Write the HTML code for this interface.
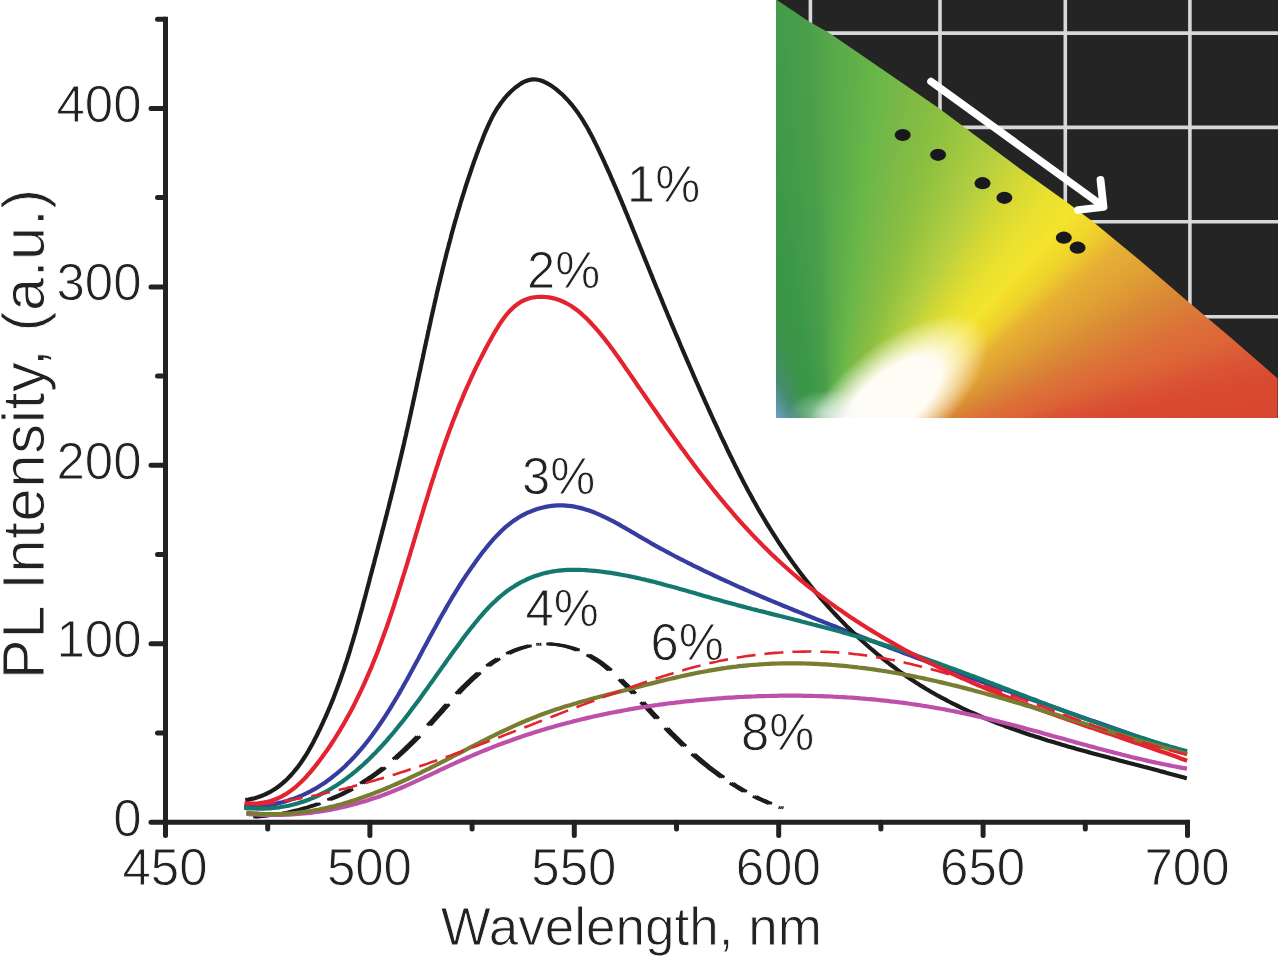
<!DOCTYPE html>
<html><head><meta charset="utf-8"><style>
html,body{margin:0;padding:0;background:#fff;width:1280px;height:958px;overflow:hidden}
svg{position:absolute;left:0;top:0}
text{font-family:"Liberation Sans",sans-serif;fill:#222;stroke:#fff;stroke-width:0.9px}
</style></head><body>
<div style="position:absolute;left:775.5px;top:0;width:502.1px;height:418.3px;background:#242424"></div>
<svg width="1280" height="958" style="position:absolute;left:775.5px;top:0"><line x1="34.4" y1="0" x2="34.4" y2="418.3" stroke="#d8d8d8" stroke-width="3.6"/><line x1="164.0" y1="0" x2="164.0" y2="418.3" stroke="#d8d8d8" stroke-width="3.6"/><line x1="289.3" y1="0" x2="289.3" y2="418.3" stroke="#d8d8d8" stroke-width="3.6"/><line x1="413.9" y1="0" x2="413.9" y2="418.3" stroke="#d8d8d8" stroke-width="3.6"/><line x1="0" y1="33.1" x2="502.1" y2="33.1" stroke="#d8d8d8" stroke-width="3.6"/><line x1="0" y1="127.4" x2="502.1" y2="127.4" stroke="#d8d8d8" stroke-width="3.6"/><line x1="0" y1="221.8" x2="502.1" y2="221.8" stroke="#d8d8d8" stroke-width="3.6"/><line x1="0" y1="316.7" x2="502.1" y2="316.7" stroke="#d8d8d8" stroke-width="3.6"/></svg>
<div style="position:absolute;left:775.5px;top:0;width:502.1px;height:418.3px;clip-path:polygon(0.0px 0.0px,1.4px 0.0px,33.5px 21.5px,54.2px 33.3px,104.5px 67.8px,163.8px 108.6px,199.5px 135.2px,244.5px 168.8px,289.0px 200.5px,317.2px 221.4px,364.5px 260.5px,412.4px 301.5px,454.5px 337.0px,502.1px 378.5px,502.1px 418.3px,0.0px 418.3px);overflow:hidden">
<div style="position:absolute;left:0;top:0;width:100%;height:100%;background:conic-gradient(from -60deg at 54.5px 480.0px, #6a9cc4 20deg, #468c6e 32deg, #3c9448 42deg, #3a9848 49deg, #4a9e4a 57deg, #56a84a 60deg, #6ab848 67deg, #78b848 70deg, #8cc040 77deg, #b8d040 87deg, #d4d834 92deg, #e8e030 97deg, #f4e42c 102deg, #f0d02c 107deg, #e6b034 111deg, #e0a035 116deg, #d98636 122deg, #dc7038 127deg, #dd6437 131deg, #da5434 134deg, #d94a32 137deg, #d8432f 145deg, #d8402f 200deg, #6a9cc4 359deg)"></div>
<div style="position:absolute;left:-13.5px;top:340px;width:260px;height:120px;transform:rotate(-40deg);background:radial-gradient(closest-side,rgba(255,252,246,1) 0%,rgba(255,252,246,1) 45%,rgba(255,252,246,0.5) 68%,rgba(255,252,246,0) 90%)"></div>
<div style="position:absolute;left:12.5px;top:390px;width:80px;height:44px;background:radial-gradient(closest-side,rgba(235,245,250,0.6) 0%,rgba(235,245,250,0) 100%)"></div>
</div>
<svg width="1280" height="958" viewBox="0 0 1280 958">
<path id="dd" d="M254.7,817.0L257.7,816.8 260.7,816.5 263.8,816.2 266.8,815.8 269.8,815.4 272.8,815.0 275.9,814.5 278.9,814.0 281.9,813.5 284.9,812.9 287.9,812.3 290.9,811.6 293.8,810.9 296.8,810.2 299.8,809.5 302.7,808.7 305.6,807.8 308.5,807.0 311.4,806.1 314.3,805.2 317.2,804.2 320.1,803.2 322.9,802.1 325.7,801.1 328.5,800.0 331.3,798.8 334.1,797.6 336.9,796.4 339.6,795.2 342.3,793.9 345.0,792.6 347.6,791.2 350.3,789.8 352.9,788.4 355.5,786.9 358.0,785.4 360.6,783.9 363.1,782.4 365.6,780.8 368.1,779.2 370.5,777.5 373.0,775.8 375.4,774.1 377.8,772.4 380.1,770.6 382.5,768.8 384.8,767.0 387.1,765.1 389.4,763.3 391.7,761.4 394.0,759.4 396.3,757.5 398.5,755.5 400.7,753.5 402.9,751.5 405.1,749.4 407.3,747.3 409.5,745.2 411.7,743.1 413.8,741.0 416.0,738.8 418.1,736.7 420.2,734.5 422.3,732.2 424.4,730.0 426.5,727.8 428.6,725.5 430.7,723.2 432.8,720.9 434.9,718.6 436.9,716.3 439.0,714.0 441.1,711.7 443.1,709.4 445.2,707.0 447.3,704.7 449.4,702.4 451.5,700.1 453.6,697.8 455.7,695.5 457.8,693.3 460.0,691.0 462.1,688.8 464.3,686.6 466.5,684.4 468.7,682.3 470.9,680.2 473.1,678.1 475.4,676.1 477.7,674.0 480.0,672.1 482.3,670.2 484.7,668.3 487.1,666.4 489.5,664.7 491.9,662.9 494.4,661.3 497.0,659.6 499.5,658.1 502.1,656.6 504.7,655.1 507.4,653.8 510.1,652.5 512.8,651.3 515.5,650.1 518.3,649.1 521.1,648.1 523.9,647.3 526.7,646.5 529.5,645.8 532.4,645.2 535.3,644.7 538.1,644.4 541.0,644.1 543.9,643.9 546.8,643.9 549.7,644.0 552.6,644.1 555.4,644.4 558.3,644.8 561.2,645.3 564.0,645.8 566.8,646.5 569.7,647.3 572.5,648.1 575.2,649.1 578.0,650.1 580.7,651.3 583.4,652.5 586.0,653.8 588.7,655.2 591.2,656.6 593.8,658.2 596.3,659.8 598.8,661.4 601.3,663.2 603.7,665.0 606.1,666.9 608.4,668.8 610.8,670.7 613.1,672.8 615.4,674.8 617.7,676.9 619.9,679.0 622.1,681.2 624.3,683.4 626.5,685.6 628.7,687.8 630.8,690.0 633.0,692.3 635.1,694.5 637.2,696.8 639.3,699.0 641.4,701.3 643.4,703.6 645.5,705.8 647.6,708.1 649.6,710.3 651.7,712.6 653.7,714.8 655.8,717.0 657.9,719.3 659.9,721.5 662.0,723.7 664.1,725.9 666.2,728.0 668.3,730.2 670.4,732.4 672.5,734.5 674.6,736.6 676.8,738.7 678.9,740.8 681.1,742.9 683.3,745.0 685.4,747.0 687.6,749.1 689.8,751.1 692.1,753.1 694.3,755.1 696.5,757.0 698.8,758.9 701.1,760.9 703.4,762.8 705.7,764.6 708.0,766.5 710.3,768.3 712.7,770.2 715.1,771.9 717.5,773.7 719.9,775.5 722.3,777.2 724.8,778.9 727.2,780.5 729.7,782.2 732.3,783.8 734.8,785.4 737.4,786.9 739.9,788.5 742.5,790.0 745.2,791.5 747.8,792.9 750.5,794.3 753.2,795.7 755.9,797.1 758.7,798.4 761.5,799.7 764.3,800.9 767.1,802.2 770.0,803.4 772.9,804.5 775.8,805.7 778.7,806.8 781.7,807.8" fill="none" stroke="#1c1c1c" stroke-width="2.8" stroke-dasharray="0 0.3 65.4 10.9 24.8 11.9 27.2 13.5 33.1 15.2 28.3 14.3 30.0 11.4 12.6 10.7 23.5 8.3 1.5 8.6 30.6 11.4 26.7 13.9 19.7 11.8 22.0 13.4 25.5 11.9 37.5 10.6 16.0 10.6 17.2 10.9 2.0 99.4"/><use href="#dd" x="-1.8"/><use href="#dd" x="1.8"/>
<path d="M244.1,806.5L247.5,806.5 250.9,806.5 254.3,806.4 257.5,806.2 260.8,805.9 264.0,805.6 267.2,805.2 270.3,804.7 273.4,804.2 276.4,803.6 279.4,802.9 282.4,802.2 285.3,801.4 288.2,800.6 291.0,799.6 293.8,798.7 296.6,797.6 299.4,796.5 302.1,795.4 304.7,794.2 307.4,792.9 310.0,791.6 312.5,790.2 315.0,788.8 317.5,787.4 320.0,785.8 322.4,784.3 324.8,782.7 327.2,781.0 329.5,779.3 331.8,777.5 334.1,775.7 336.4,773.9 338.6,772.0 340.8,770.1 342.9,768.2 345.1,766.2 347.2,764.1 349.3,762.1 351.3,759.9 353.4,757.8 355.4,755.6 357.4,753.4 359.3,751.2 361.3,748.9 363.2,746.6 365.1,744.3 366.9,742.0 368.8,739.6 370.6,737.2 372.4,734.8 374.2,732.3 376.0,729.8 377.7,727.4 379.5,724.8 381.2,722.3 382.9,719.8 384.6,717.2 386.2,714.6 387.9,712.0 389.5,709.4 391.1,706.8 392.7,704.2 394.3,701.5 395.9,698.9 397.5,696.2 399.0,693.6 400.5,690.9 402.1,688.2 403.6,685.5 405.1,682.8 406.6,680.2 408.1,677.5 409.6,674.8 411.0,672.1 412.5,669.4 413.9,666.7 415.4,664.0 416.8,661.4 418.3,658.7 419.7,656.0 421.1,653.4 422.5,650.7 423.9,648.1 425.4,645.4 426.8,642.8 428.2,640.2 429.6,637.6 431.0,635.0 432.4,632.4 433.8,629.8 435.3,627.2 436.7,624.6 438.1,622.0 439.5,619.4 441.0,616.8 442.4,614.3 443.9,611.7 445.4,609.1 446.8,606.6 448.3,604.0 449.8,601.5 451.3,599.0 452.8,596.4 454.4,593.9 455.9,591.4 457.5,588.9 459.0,586.4 460.6,583.8 462.2,581.3 463.9,578.8 465.5,576.3 467.2,573.9 468.9,571.4 470.6,568.9 472.3,566.4 474.1,563.9 475.8,561.5 477.6,559.0 479.5,556.5 481.3,554.1 483.2,551.6 485.1,549.2 487.0,546.8 489.0,544.4 491.0,542.0 493.0,539.7 495.1,537.4 497.2,535.2 499.4,533.0 501.6,530.8 503.8,528.7 506.1,526.7 508.4,524.8 510.8,522.9 513.2,521.1 515.7,519.4 518.2,517.8 520.8,516.2 523.4,514.8 526.1,513.4 528.8,512.2 531.6,511.1 534.4,510.0 537.2,509.1 540.0,508.2 542.9,507.5 545.7,506.9 548.6,506.3 551.5,505.9 554.4,505.6 557.3,505.4 560.1,505.4 563.0,505.4 565.9,505.6 568.7,505.8 571.5,506.2 574.4,506.6 577.2,507.2 580.0,507.9 582.7,508.6 585.5,509.4 588.3,510.3 591.1,511.3 593.8,512.3 596.5,513.4 599.3,514.6 602.0,515.8 604.7,517.1 607.4,518.4 610.2,519.8 612.9,521.2 615.6,522.7 618.3,524.1 620.9,525.6 623.6,527.2 626.3,528.7 629.0,530.3 631.7,531.9 634.4,533.4 637.0,535.0 639.7,536.6 642.4,538.1 645.1,539.7 647.8,541.2 650.4,542.8 653.1,544.3 655.8,545.8 658.5,547.3 661.2,548.8 663.9,550.2 666.5,551.7 669.2,553.1 671.9,554.5 674.6,556.0 677.3,557.4 680.0,558.8 682.7,560.1 685.4,561.5 688.0,562.9 690.7,564.2 693.4,565.6 696.1,566.9 698.8,568.2 701.5,569.5 704.2,570.8 706.9,572.1 709.6,573.4 712.3,574.7 715.0,576.0 717.7,577.2 720.4,578.5 723.2,579.7 725.9,581.0 728.6,582.2 731.3,583.4 734.0,584.6 736.7,585.9 739.4,587.1 742.2,588.3 744.9,589.5 747.6,590.6 750.3,591.8 753.1,593.0 755.8,594.2 758.5,595.3 761.2,596.5 764.0,597.7 766.7,598.8 769.4,600.0 772.2,601.1 774.9,602.2 777.7,603.4 780.4,604.5 783.2,605.7 785.9,606.8 788.7,607.9 791.4,609.0 794.2,610.2 796.9,611.3 799.7,612.4 802.5,613.5 805.2,614.6 808.0,615.7 810.8,616.9 813.5,618.0 816.3,619.1 819.1,620.2 821.8,621.3 824.6,622.4 827.4,623.5 830.2,624.6 833.0,625.7 835.8,626.8 838.5,627.9 841.3,629.0 844.1,630.1 846.9,631.2 849.7,632.3 852.5,633.4 855.3,634.4 858.1,635.5 860.9,636.6 863.7,637.7 866.5,638.8 869.3,639.9 872.1,640.9 874.9,642.0 877.7,643.1 880.6,644.2 883.4,645.2 886.2,646.3 889.0,647.4 891.8,648.4 894.6,649.5 897.5,650.6 900.3,651.6 903.1,652.7 905.9,653.8 908.7,654.8 911.6,655.9 914.4,656.9 917.2,658.0 920.1,659.0 922.9,660.1 925.7,661.1 928.5,662.2 931.4,663.2 934.2,664.3 937.0,665.3 939.9,666.4 942.7,667.4 945.5,668.5 948.4,669.5 951.2,670.5 954.1,671.6 956.9,672.6 959.7,673.7 962.6,674.7 965.4,675.7 968.3,676.8 971.1,677.8 973.9,678.8 976.8,679.8 979.6,680.9 982.5,681.9 985.3,682.9 988.2,684.0 991.0,685.0 993.8,686.0 996.7,687.0 999.5,688.0 1002.4,689.1 1005.2,690.1 1008.1,691.1 1010.9,692.1 1013.8,693.1 1016.6,694.1 1019.5,695.1 1022.3,696.2 1025.2,697.2 1028.0,698.2 1030.8,699.2 1033.7,700.2 1036.5,701.2 1039.4,702.2 1042.2,703.2 1045.1,704.2 1047.9,705.2 1050.8,706.2 1053.6,707.2 1056.4,708.2 1059.3,709.2 1062.1,710.2 1065.0,711.2 1067.8,712.2 1070.7,713.2 1073.5,714.2 1076.3,715.2 1079.2,716.2 1082.0,717.2 1084.9,718.2 1087.7,719.2 1090.5,720.2 1093.4,721.1 1096.2,722.1 1099.1,723.1 1101.9,724.1 1104.7,725.1 1107.6,726.1 1110.4,727.1 1113.2,728.1 1116.1,729.0 1118.9,730.0 1121.7,731.0 1124.5,732.0 1127.4,733.0 1130.2,733.9 1133.0,734.9 1135.8,735.9 1138.7,736.9 1141.5,737.9 1144.3,738.8 1147.1,739.8 1149.9,740.8 1152.8,741.8 1155.6,742.7 1158.4,743.7 1161.2,744.7 1164.0,745.6 1166.8,746.6 1169.6,747.6 1172.4,748.6 1175.2,749.5 1178.1,750.5 1180.9,751.5 1183.7,752.4 1186.5,753.4" fill="none" stroke="#373ca0" stroke-width="4.2" stroke-linejoin="round" />
<path d="M245.3,800.1L248.5,799.6 251.6,798.9 254.7,798.2 257.6,797.3 260.5,796.3 263.3,795.2 266.0,794.0 268.6,792.7 271.2,791.3 273.7,789.8 276.1,788.2 278.5,786.5 280.8,784.7 283.0,782.9 285.2,780.9 287.3,778.9 289.4,776.8 291.4,774.7 293.3,772.5 295.2,770.2 297.1,767.9 298.9,765.5 300.7,763.0 302.4,760.5 304.0,758.0 305.7,755.5 307.3,752.9 308.8,750.2 310.3,747.6 311.8,744.9 313.3,742.2 314.7,739.4 316.1,736.7 317.5,734.0 318.8,731.2 320.2,728.5 321.5,725.7 322.8,722.9 324.0,720.2 325.3,717.4 326.5,714.6 327.7,711.8 328.9,709.0 330.1,706.3 331.2,703.5 332.4,700.7 333.5,697.9 334.6,695.1 335.6,692.3 336.7,689.4 337.8,686.6 338.8,683.8 339.8,681.0 340.8,678.2 341.8,675.3 342.8,672.5 343.8,669.7 344.7,666.8 345.6,664.0 346.6,661.2 347.5,658.3 348.4,655.5 349.3,652.6 350.2,649.8 351.0,646.9 351.9,644.0 352.8,641.2 353.6,638.3 354.4,635.5 355.3,632.6 356.1,629.7 356.9,626.8 357.7,624.0 358.5,621.1 359.3,618.2 360.1,615.3 360.9,612.4 361.7,609.6 362.5,606.7 363.2,603.8 364.0,600.9 364.8,598.0 365.6,595.1 366.3,592.2 367.1,589.3 367.9,586.4 368.6,583.5 369.4,580.6 370.1,577.7 370.9,574.8 371.7,571.9 372.4,569.0 373.2,566.1 374.0,563.2 374.7,560.3 375.5,557.3 376.3,554.4 377.0,551.5 377.8,548.6 378.5,545.7 379.3,542.8 380.1,539.9 380.8,536.9 381.6,534.0 382.3,531.1 383.1,528.2 383.9,525.3 384.6,522.3 385.4,519.4 386.1,516.5 386.9,513.6 387.6,510.6 388.4,507.7 389.1,504.8 389.8,501.8 390.6,498.9 391.3,496.0 392.0,493.1 392.8,490.1 393.5,487.2 394.2,484.3 395.0,481.3 395.7,478.4 396.4,475.5 397.1,472.5 397.8,469.6 398.5,466.7 399.2,463.7 399.9,460.8 400.6,457.9 401.3,454.9 402.0,452.0 402.7,449.0 403.4,446.1 404.1,443.2 404.7,440.2 405.4,437.3 406.1,434.4 406.7,431.4 407.4,428.5 408.1,425.5 408.7,422.6 409.4,419.7 410.0,416.7 410.7,413.8 411.3,410.9 411.9,407.9 412.6,405.0 413.2,402.0 413.9,399.1 414.5,396.2 415.1,393.2 415.8,390.3 416.4,387.4 417.0,384.4 417.6,381.5 418.3,378.6 418.9,375.6 419.5,372.7 420.2,369.7 420.8,366.8 421.4,363.9 422.0,360.9 422.7,358.0 423.3,355.1 423.9,352.1 424.5,349.2 425.2,346.3 425.8,343.3 426.4,340.4 427.1,337.5 427.7,334.5 428.3,331.6 429.0,328.7 429.6,325.8 430.3,322.8 430.9,319.9 431.5,317.0 432.2,314.1 432.9,311.1 433.5,308.2 434.2,305.3 434.8,302.4 435.5,299.4 436.2,296.5 436.8,293.6 437.5,290.7 438.2,287.7 438.9,284.8 439.6,281.9 440.3,279.0 441.0,276.1 441.7,273.2 442.4,270.2 443.1,267.3 443.8,264.4 444.5,261.5 445.3,258.6 446.0,255.7 446.7,252.8 447.5,249.9 448.3,247.0 449.0,244.1 449.8,241.2 450.6,238.3 451.3,235.3 452.1,232.4 452.9,229.5 453.7,226.7 454.5,223.8 455.3,220.9 456.2,218.0 457.0,215.1 457.8,212.2 458.7,209.3 459.6,206.4 460.4,203.5 461.3,200.6 462.2,197.7 463.1,194.9 464.0,192.0 464.9,189.1 465.8,186.2 466.7,183.3 467.7,180.5 468.6,177.6 469.6,174.7 470.6,171.8 471.5,169.0 472.5,166.1 473.5,163.2 474.5,160.4 475.6,157.5 476.6,154.6 477.7,151.8 478.7,148.9 479.8,146.1 480.9,143.2 482.0,140.4 483.1,137.5 484.2,134.7 485.4,131.9 486.6,129.1 487.8,126.3 489.1,123.5 490.4,120.8 491.7,118.1 493.1,115.4 494.6,112.8 496.1,110.2 497.7,107.7 499.4,105.2 501.1,102.8 502.9,100.4 504.7,98.1 506.7,95.8 508.7,93.7 510.9,91.5 513.1,89.5 515.4,87.5 517.9,85.7 520.4,83.9 522.9,82.4 525.6,81.2 528.2,80.2 530.9,79.6 533.6,79.3 536.2,79.5 538.9,80.0 541.6,80.7 544.2,81.8 546.8,83.1 549.3,84.5 551.8,86.1 554.3,87.9 556.6,89.7 558.9,91.6 561.2,93.6 563.3,95.6 565.4,97.7 567.5,99.9 569.5,102.1 571.4,104.3 573.3,106.7 575.1,109.0 576.9,111.4 578.6,113.9 580.3,116.4 582.0,118.9 583.6,121.5 585.1,124.1 586.7,126.7 588.2,129.3 589.6,132.0 591.1,134.7 592.5,137.4 593.9,140.2 595.2,142.9 596.6,145.6 597.9,148.4 599.2,151.2 600.5,153.9 601.8,156.7 603.1,159.4 604.4,162.2 605.6,165.0 606.9,167.7 608.1,170.5 609.4,173.2 610.6,176.0 611.8,178.8 613.0,181.5 614.2,184.3 615.4,187.0 616.6,189.8 617.8,192.6 618.9,195.3 620.1,198.1 621.3,200.8 622.4,203.6 623.6,206.4 624.7,209.1 625.8,211.9 627.0,214.6 628.1,217.4 629.2,220.2 630.4,222.9 631.5,225.7 632.6,228.5 633.7,231.2 634.9,234.0 636.0,236.8 637.1,239.5 638.2,242.3 639.3,245.1 640.4,247.8 641.6,250.6 642.7,253.4 643.8,256.2 644.9,258.9 646.0,261.7 647.2,264.5 648.3,267.3 649.4,270.1 650.5,272.8 651.7,275.6 652.8,278.4 653.9,281.2 655.1,284.0 656.2,286.8 657.4,289.5 658.5,292.3 659.7,295.1 660.8,297.9 662.0,300.7 663.1,303.5 664.3,306.3 665.4,309.1 666.6,311.8 667.7,314.6 668.9,317.4 670.1,320.2 671.2,323.0 672.4,325.8 673.6,328.6 674.7,331.3 675.9,334.1 677.1,336.9 678.3,339.7 679.5,342.5 680.6,345.3 681.8,348.0 683.0,350.8 684.2,353.6 685.4,356.4 686.6,359.1 687.8,361.9 689.0,364.7 690.2,367.5 691.4,370.2 692.6,373.0 693.8,375.8 695.0,378.5 696.2,381.3 697.5,384.1 698.7,386.8 699.9,389.6 701.1,392.3 702.3,395.1 703.6,397.8 704.8,400.6 706.0,403.3 707.3,406.1 708.5,408.8 709.8,411.6 711.0,414.3 712.2,417.0 713.5,419.8 714.7,422.5 716.0,425.2 717.3,428.0 718.5,430.7 719.8,433.4 721.0,436.1 722.3,438.8 723.6,441.5 724.9,444.2 726.2,447.0 727.4,449.7 728.7,452.3 730.0,455.0 731.4,457.7 732.7,460.4 734.0,463.1 735.3,465.8 736.7,468.4 738.0,471.1 739.3,473.8 740.7,476.4 742.1,479.1 743.4,481.7 744.8,484.4 746.2,487.0 747.6,489.7 749.0,492.3 750.5,494.9 751.9,497.5 753.3,500.2 754.8,502.8 756.3,505.4 757.7,508.0 759.2,510.6 760.7,513.2 762.2,515.7 763.8,518.3 765.3,520.9 766.8,523.5 768.4,526.0 770.0,528.6 771.6,531.1 773.2,533.7 774.8,536.2 776.4,538.7 778.1,541.3 779.7,543.8 781.4,546.3 783.1,548.8 784.8,551.3 786.5,553.8 788.3,556.2 790.0,558.7 791.8,561.2 793.5,563.6 795.3,566.1 797.1,568.5 798.9,570.9 800.8,573.4 802.6,575.8 804.4,578.2 806.3,580.5 808.2,582.9 810.1,585.3 812.0,587.6 813.9,590.0 815.8,592.3 817.8,594.6 819.7,597.0 821.7,599.3 823.7,601.5 825.7,603.8 827.7,606.1 829.7,608.3 831.8,610.6 833.8,612.8 835.9,615.0 838.0,617.2 840.1,619.4 842.2,621.6 844.3,623.7 846.4,625.9 848.6,628.0 850.7,630.1 852.9,632.2 855.1,634.3 857.3,636.4 859.5,638.4 861.7,640.5 863.9,642.5 866.2,644.5 868.4,646.5 870.7,648.5 873.0,650.4 875.3,652.4 877.6,654.3 879.9,656.2 882.2,658.1 884.6,660.0 886.9,661.8 889.3,663.7 891.7,665.5 894.1,667.3 896.5,669.1 898.9,670.9 901.3,672.6 903.8,674.3 906.2,676.0 908.7,677.7 911.2,679.4 913.7,681.0 916.2,682.7 918.7,684.3 921.2,685.9 923.7,687.4 926.3,689.0 928.9,690.5 931.4,692.0 934.0,693.5 936.6,695.0 939.2,696.4 941.9,697.8 944.5,699.2 947.1,700.6 949.8,702.0 952.4,703.4 955.1,704.7 957.8,706.0 960.5,707.3 963.2,708.6 965.9,709.8 968.6,711.1 971.3,712.3 974.1,713.5 976.8,714.7 979.6,715.9 982.3,717.1 985.1,718.2 987.9,719.4 990.7,720.5 993.5,721.6 996.3,722.7 999.1,723.8 1001.9,724.8 1004.7,725.9 1007.5,726.9 1010.3,728.0 1013.2,729.0 1016.0,730.0 1018.9,731.0 1021.7,732.0 1024.6,732.9 1027.4,733.9 1030.3,734.9 1033.2,735.8 1036.1,736.7 1038.9,737.6 1041.8,738.6 1044.7,739.5 1047.6,740.4 1050.5,741.2 1053.4,742.1 1056.3,743.0 1059.2,743.8 1062.1,744.7 1065.0,745.5 1067.9,746.4 1070.8,747.2 1073.8,748.0 1076.7,748.9 1079.6,749.7 1082.5,750.5 1085.4,751.3 1088.4,752.1 1091.3,752.9 1094.2,753.7 1097.1,754.5 1100.0,755.3 1103.0,756.0 1105.9,756.8 1108.8,757.6 1111.7,758.4 1114.7,759.1 1117.6,759.9 1120.5,760.7 1123.4,761.4 1126.3,762.2 1129.2,763.0 1132.1,763.7 1135.1,764.5 1138.0,765.2 1140.9,766.0 1143.8,766.8 1146.7,767.5 1149.6,768.3 1152.5,769.0 1155.3,769.8 1158.2,770.6 1161.1,771.4 1164.0,772.1 1166.9,772.9 1169.7,773.7 1172.6,774.5 1175.4,775.2 1178.3,776.0 1181.1,776.8 1184.0,777.6 1186.8,778.4" fill="none" stroke="#1c1c1c" stroke-width="4.2" stroke-linejoin="round" />
<path d="M244.2,807.8L247.6,808.1 250.9,808.4 254.3,808.5 257.5,808.6 260.8,808.7 264.0,808.6 267.2,808.5 270.3,808.3 273.5,808.0 276.5,807.7 279.6,807.3 282.6,806.8 285.6,806.3 288.6,805.7 291.5,805.0 294.4,804.3 297.3,803.5 300.1,802.6 302.9,801.7 305.7,800.7 308.5,799.7 311.2,798.6 313.9,797.5 316.6,796.3 319.3,795.0 321.9,793.7 324.5,792.4 327.1,791.0 329.6,789.5 332.1,788.1 334.6,786.5 337.1,784.9 339.6,783.3 342.0,781.7 344.4,779.9 346.8,778.2 349.1,776.4 351.5,774.6 353.8,772.7 356.1,770.8 358.3,768.9 360.6,766.9 362.8,765.0 365.0,762.9 367.2,760.9 369.4,758.8 371.5,756.7 373.6,754.6 375.8,752.4 377.8,750.2 379.9,748.0 382.0,745.8 384.0,743.5 386.0,741.3 388.0,739.0 390.0,736.7 392.0,734.4 394.0,732.0 395.9,729.7 397.8,727.3 399.7,724.9 401.6,722.6 403.5,720.2 405.4,717.8 407.2,715.4 409.1,713.0 410.9,710.6 412.7,708.1 414.5,705.7 416.3,703.3 418.1,700.9 419.9,698.5 421.6,696.1 423.4,693.6 425.1,691.2 426.9,688.8 428.6,686.4 430.3,683.9 432.1,681.5 433.8,679.1 435.5,676.6 437.2,674.2 439.0,671.8 440.7,669.4 442.4,666.9 444.2,664.5 445.9,662.0 447.6,659.6 449.4,657.2 451.1,654.7 452.9,652.3 454.7,649.8 456.5,647.4 458.3,644.9 460.1,642.5 461.9,640.0 463.7,637.6 465.6,635.1 467.4,632.7 469.3,630.2 471.2,627.8 473.2,625.4 475.1,622.9 477.1,620.6 479.0,618.2 481.1,615.8 483.1,613.5 485.1,611.2 487.2,609.0 489.3,606.8 491.5,604.6 493.7,602.5 495.9,600.4 498.1,598.4 500.4,596.4 502.7,594.5 505.0,592.6 507.4,590.8 509.8,589.1 512.3,587.5 514.8,585.9 517.3,584.4 519.8,582.9 522.4,581.5 525.1,580.3 527.7,579.0 530.4,577.9 533.1,576.8 535.9,575.8 538.7,574.9 541.4,574.0 544.3,573.3 547.1,572.6 550.0,572.0 552.9,571.4 555.8,571.0 558.7,570.6 561.6,570.3 564.6,570.1 567.5,569.9 570.5,569.8 573.5,569.8 576.5,569.8 579.5,569.9 582.5,570.0 585.5,570.1 588.4,570.4 591.4,570.6 594.4,570.9 597.4,571.2 600.4,571.5 603.4,571.9 606.3,572.3 609.3,572.7 612.3,573.1 615.3,573.6 618.2,574.1 621.2,574.7 624.1,575.2 627.1,575.8 630.0,576.4 633.0,577.0 635.9,577.6 638.9,578.3 641.8,579.0 644.8,579.6 647.7,580.4 650.6,581.1 653.6,581.8 656.5,582.6 659.4,583.3 662.4,584.1 665.3,584.9 668.2,585.7 671.2,586.5 674.1,587.3 677.0,588.1 679.9,588.9 682.9,589.8 685.8,590.6 688.7,591.4 691.6,592.3 694.5,593.1 697.5,594.0 700.4,594.8 703.3,595.7 706.2,596.5 709.1,597.3 712.0,598.2 715.0,599.0 717.9,599.8 720.8,600.6 723.7,601.4 726.6,602.2 729.6,603.0 732.5,603.8 735.4,604.6 738.3,605.4 741.2,606.1 744.2,606.9 747.1,607.7 750.0,608.4 752.9,609.2 755.8,609.9 758.8,610.7 761.7,611.4 764.6,612.1 767.5,612.9 770.4,613.6 773.4,614.4 776.3,615.1 779.2,615.8 782.1,616.5 785.0,617.3 787.9,618.0 790.8,618.7 793.8,619.5 796.7,620.2 799.6,620.9 802.5,621.7 805.4,622.4 808.3,623.2 811.2,623.9 814.1,624.7 817.0,625.4 819.9,626.2 822.8,626.9 825.7,627.7 828.6,628.5 831.5,629.2 834.4,630.0 837.3,630.8 840.2,631.6 843.1,632.4 845.9,633.2 848.8,634.0 851.7,634.9 854.6,635.7 857.5,636.5 860.3,637.4 863.2,638.2 866.1,639.1 868.9,640.0 871.8,640.9 874.7,641.8 877.5,642.7 880.4,643.6 883.3,644.5 886.1,645.4 889.0,646.3 891.8,647.3 894.7,648.2 897.5,649.2 900.4,650.1 903.2,651.1 906.1,652.0 908.9,653.0 911.8,654.0 914.6,655.0 917.4,656.0 920.3,657.0 923.1,658.0 926.0,659.0 928.8,660.0 931.6,661.0 934.5,662.0 937.3,663.0 940.1,664.0 943.0,665.1 945.8,666.1 948.6,667.2 951.5,668.2 954.3,669.2 957.1,670.3 959.9,671.3 962.8,672.4 965.6,673.5 968.4,674.5 971.2,675.6 974.0,676.6 976.9,677.7 979.7,678.8 982.5,679.8 985.3,680.9 988.2,682.0 991.0,683.1 993.8,684.1 996.6,685.2 999.4,686.3 1002.3,687.4 1005.1,688.5 1007.9,689.5 1010.7,690.6 1013.5,691.7 1016.3,692.8 1019.2,693.9 1022.0,694.9 1024.8,696.0 1027.6,697.1 1030.4,698.2 1033.3,699.2 1036.1,700.3 1038.9,701.4 1041.7,702.5 1044.6,703.5 1047.4,704.6 1050.2,705.7 1053.0,706.7 1055.8,707.8 1058.7,708.8 1061.5,709.9 1064.3,711.0 1067.1,712.0 1070.0,713.1 1072.8,714.1 1075.6,715.1 1078.5,716.2 1081.3,717.2 1084.1,718.2 1087.0,719.3 1089.8,720.3 1092.6,721.3 1095.5,722.3 1098.3,723.3 1101.1,724.3 1104.0,725.3 1106.8,726.3 1109.7,727.3 1112.5,728.3 1115.4,729.2 1118.2,730.2 1121.0,731.2 1123.9,732.1 1126.7,733.1 1129.6,734.0 1132.5,735.0 1135.3,735.9 1138.2,736.8 1141.0,737.7 1143.9,738.6 1146.8,739.6 1149.6,740.4 1152.5,741.3 1155.4,742.2 1158.2,743.1 1161.1,743.9 1164.0,744.8 1166.9,745.6 1169.7,746.5 1172.6,747.3 1175.5,748.1 1178.4,748.9 1181.3,749.7 1184.2,750.5 1187.1,751.3" fill="none" stroke="#14786e" stroke-width="4.2" stroke-linejoin="round" />
<path d="M244.5,803.1L248.1,803.4 251.6,803.5 254.9,803.5 258.2,803.3 261.4,802.9 264.5,802.4 267.5,801.8 270.4,801.0 273.3,800.1 276.0,799.0 278.7,797.8 281.4,796.6 283.9,795.2 286.5,793.7 288.9,792.1 291.3,790.4 293.6,788.6 295.9,786.8 298.1,784.8 300.3,782.8 302.4,780.8 304.5,778.6 306.5,776.5 308.5,774.2 310.5,772.0 312.4,769.6 314.3,767.3 316.2,764.9 318.0,762.6 319.8,760.2 321.6,757.8 323.4,755.3 325.1,752.9 326.9,750.4 328.6,748.0 330.3,745.5 331.9,743.0 333.6,740.5 335.2,737.9 336.8,735.4 338.3,732.9 339.9,730.3 341.4,727.7 343.0,725.1 344.5,722.5 345.9,719.9 347.4,717.3 348.8,714.7 350.3,712.1 351.7,709.4 353.1,706.7 354.4,704.1 355.8,701.4 357.1,698.7 358.4,696.0 359.7,693.3 361.0,690.6 362.3,687.9 363.6,685.1 364.8,682.4 366.0,679.6 367.2,676.9 368.4,674.1 369.6,671.3 370.8,668.6 372.0,665.8 373.1,663.0 374.2,660.2 375.4,657.4 376.5,654.6 377.6,651.8 378.7,648.9 379.7,646.1 380.8,643.3 381.8,640.4 382.9,637.6 383.9,634.8 384.9,631.9 386.0,629.1 387.0,626.2 388.0,623.3 389.0,620.5 389.9,617.6 390.9,614.7 391.9,611.9 392.8,609.0 393.8,606.1 394.7,603.2 395.6,600.4 396.6,597.5 397.5,594.6 398.4,591.7 399.3,588.9 400.2,586.0 401.1,583.1 402.0,580.2 402.9,577.3 403.8,574.4 404.7,571.6 405.6,568.7 406.5,565.8 407.4,562.9 408.2,560.0 409.1,557.2 410.0,554.3 410.8,551.4 411.7,548.5 412.6,545.6 413.4,542.8 414.3,539.9 415.2,537.0 416.0,534.1 416.9,531.3 417.8,528.4 418.6,525.5 419.5,522.7 420.4,519.8 421.2,516.9 422.1,514.0 423.0,511.2 423.8,508.3 424.7,505.4 425.6,502.6 426.5,499.7 427.4,496.9 428.2,494.0 429.1,491.1 430.0,488.3 430.9,485.4 431.8,482.6 432.7,479.7 433.7,476.9 434.6,474.0 435.5,471.2 436.4,468.3 437.4,465.5 438.3,462.7 439.3,459.8 440.2,457.0 441.2,454.2 442.1,451.3 443.1,448.5 444.1,445.7 445.1,442.8 446.1,440.0 447.1,437.2 448.1,434.4 449.2,431.6 450.2,428.8 451.3,425.9 452.3,423.1 453.4,420.3 454.5,417.5 455.6,414.7 456.7,411.9 457.8,409.1 458.9,406.4 460.0,403.6 461.2,400.8 462.4,398.0 463.5,395.2 464.7,392.4 465.9,389.7 467.1,386.9 468.4,384.1 469.6,381.4 470.9,378.6 472.1,375.9 473.4,373.1 474.7,370.4 476.0,367.6 477.4,364.9 478.7,362.1 480.1,359.4 481.5,356.7 482.9,354.0 484.3,351.2 485.7,348.5 487.2,345.8 488.6,343.1 490.1,340.4 491.6,337.7 493.1,335.0 494.7,332.3 496.3,329.6 497.9,327.0 499.5,324.4 501.2,321.9 502.9,319.4 504.7,317.0 506.5,314.7 508.4,312.5 510.3,310.4 512.3,308.4 514.4,306.5 516.6,304.8 518.8,303.2 521.1,301.7 523.6,300.5 526.1,299.4 528.7,298.5 531.4,297.8 534.2,297.3 537.0,297.0 539.9,296.8 542.8,296.8 545.8,297.0 548.8,297.4 551.7,297.9 554.7,298.6 557.6,299.5 560.4,300.5 563.2,301.7 565.9,303.0 568.6,304.5 571.2,306.0 573.7,307.7 576.2,309.5 578.7,311.4 581.0,313.4 583.3,315.5 585.6,317.6 587.8,319.8 590.0,322.0 592.1,324.3 594.2,326.6 596.2,328.9 598.2,331.2 600.2,333.5 602.1,335.9 604.0,338.2 605.9,340.6 607.7,342.9 609.5,345.3 611.3,347.7 613.1,350.1 614.8,352.5 616.5,354.9 618.3,357.3 620.0,359.8 621.7,362.2 623.4,364.6 625.0,367.1 626.7,369.5 628.4,371.9 630.1,374.4 631.8,376.8 633.5,379.3 635.1,381.7 636.8,384.2 638.5,386.7 640.2,389.1 641.9,391.6 643.6,394.0 645.3,396.5 647.0,399.0 648.7,401.4 650.4,403.9 652.1,406.4 653.8,408.8 655.6,411.3 657.3,413.8 659.0,416.2 660.7,418.7 662.4,421.2 664.2,423.6 665.9,426.1 667.6,428.6 669.4,431.0 671.1,433.5 672.9,435.9 674.6,438.4 676.4,440.8 678.2,443.3 679.9,445.7 681.7,448.2 683.5,450.6 685.3,453.0 687.1,455.5 688.9,457.9 690.7,460.3 692.5,462.7 694.3,465.2 696.1,467.6 697.9,470.0 699.8,472.4 701.6,474.8 703.5,477.2 705.3,479.5 707.2,481.9 709.1,484.3 710.9,486.7 712.8,489.0 714.7,491.4 716.6,493.7 718.5,496.1 720.4,498.4 722.3,500.7 724.3,503.0 726.2,505.4 728.2,507.7 730.1,509.9 732.1,512.2 734.0,514.5 736.0,516.8 738.0,519.0 740.0,521.3 742.0,523.5 744.1,525.8 746.1,528.0 748.1,530.2 750.2,532.4 752.2,534.6 754.3,536.8 756.4,538.9 758.5,541.1 760.6,543.2 762.7,545.4 764.8,547.5 766.9,549.6 769.1,551.7 771.2,553.8 773.4,555.9 775.6,557.9 777.8,560.0 780.0,562.0 782.2,564.0 784.4,566.0 786.7,568.0 788.9,570.0 791.2,572.0 793.4,574.0 795.7,575.9 798.0,577.8 800.3,579.8 802.6,581.7 804.9,583.6 807.3,585.5 809.6,587.3 812.0,589.2 814.3,591.0 816.7,592.9 819.1,594.7 821.5,596.5 823.9,598.3 826.3,600.1 828.7,601.9 831.2,603.7 833.6,605.4 836.0,607.2 838.5,608.9 841.0,610.6 843.4,612.3 845.9,614.0 848.4,615.7 850.9,617.4 853.4,619.0 855.9,620.7 858.4,622.3 861.0,624.0 863.5,625.6 866.1,627.2 868.6,628.8 871.2,630.4 873.7,631.9 876.3,633.5 878.9,635.0 881.5,636.6 884.1,638.1 886.7,639.6 889.3,641.1 891.9,642.6 894.5,644.1 897.1,645.6 899.8,647.1 902.4,648.5 905.0,650.0 907.7,651.4 910.3,652.8 913.0,654.2 915.7,655.6 918.3,657.0 921.0,658.4 923.7,659.8 926.4,661.2 929.1,662.5 931.8,663.8 934.5,665.2 937.2,666.5 939.9,667.8 942.6,669.1 945.3,670.4 948.0,671.7 950.7,673.0 953.5,674.2 956.2,675.5 958.9,676.7 961.7,678.0 964.4,679.2 967.2,680.4 969.9,681.6 972.6,682.8 975.4,684.0 978.2,685.2 980.9,686.4 983.7,687.5 986.4,688.7 989.2,689.8 992.0,691.0 994.8,692.1 997.5,693.2 1000.3,694.4 1003.1,695.5 1005.9,696.6 1008.7,697.7 1011.5,698.8 1014.2,699.9 1017.0,700.9 1019.8,702.0 1022.6,703.1 1025.4,704.1 1028.2,705.2 1031.1,706.2 1033.9,707.3 1036.7,708.3 1039.5,709.4 1042.3,710.4 1045.1,711.4 1047.9,712.4 1050.8,713.5 1053.6,714.5 1056.4,715.5 1059.2,716.5 1062.1,717.5 1064.9,718.5 1067.7,719.5 1070.6,720.5 1073.4,721.5 1076.2,722.5 1079.1,723.4 1081.9,724.4 1084.7,725.4 1087.6,726.4 1090.4,727.4 1093.3,728.3 1096.1,729.3 1098.9,730.3 1101.8,731.2 1104.6,732.2 1107.5,733.2 1110.3,734.1 1113.2,735.1 1116.0,736.1 1118.9,737.0 1121.7,738.0 1124.6,739.0 1127.4,740.0 1130.3,740.9 1133.1,741.9 1136.0,742.9 1138.8,743.8 1141.6,744.8 1144.5,745.8 1147.3,746.7 1150.2,747.7 1153.0,748.7 1155.9,749.7 1158.7,750.7 1161.6,751.7 1164.4,752.6 1167.3,753.6 1170.1,754.6 1172.9,755.6 1175.8,756.6 1178.6,757.6 1181.4,758.7 1184.3,759.7 1187.1,760.7" fill="none" stroke="#e42330" stroke-width="4.2" stroke-linejoin="round" />
<path d="M246.4,813.8L249.5,814.1 252.6,814.3 255.6,814.5 258.7,814.6 261.7,814.8 264.8,814.9 267.8,814.9 270.9,815.0 273.9,815.0 277.0,814.9 280.0,814.9 283.0,814.8 286.1,814.7 289.1,814.6 292.1,814.4 295.1,814.2 298.1,814.0 301.1,813.7 304.2,813.4 307.2,813.1 310.2,812.8 313.1,812.4 316.1,812.0 319.1,811.6 322.1,811.1 325.1,810.6 328.0,810.1 331.0,809.6 333.9,809.0 336.9,808.4 339.8,807.8 342.7,807.1 345.7,806.4 348.6,805.7 351.5,805.0 354.4,804.2 357.3,803.4 360.2,802.6 363.0,801.8 365.9,800.9 368.8,800.0 371.6,799.1 374.5,798.1 377.3,797.2 380.1,796.2 383.0,795.1 385.8,794.1 388.6,793.0 391.4,791.9 394.1,790.8 396.9,789.6 399.7,788.5 402.5,787.3 405.2,786.1 408.0,784.9 410.7,783.7 413.5,782.4 416.2,781.2 419.0,779.9 421.7,778.7 424.4,777.4 427.2,776.1 429.9,774.9 432.6,773.6 435.4,772.3 438.1,771.0 440.8,769.7 443.5,768.5 446.3,767.2 449.0,765.9 451.7,764.6 454.5,763.4 457.2,762.1 459.9,760.9 462.7,759.7 465.4,758.5 468.2,757.3 470.9,756.1 473.7,754.9 476.5,753.7 479.2,752.6 482.0,751.4 484.8,750.3 487.6,749.2 490.4,748.1 493.1,747.0 495.9,745.9 498.7,744.8 501.5,743.8 504.3,742.7 507.2,741.7 510.0,740.7 512.8,739.7 515.6,738.7 518.4,737.7 521.3,736.7 524.1,735.8 527.0,734.8 529.8,733.9 532.7,733.0 535.5,732.1 538.4,731.2 541.3,730.3 544.1,729.4 547.0,728.6 549.9,727.7 552.8,726.9 555.7,726.1 558.6,725.3 561.5,724.5 564.4,723.7 567.3,722.9 570.2,722.2 573.1,721.4 576.0,720.7 579.0,720.0 581.9,719.3 584.8,718.6 587.7,717.9 590.7,717.2 593.6,716.5 596.6,715.9 599.5,715.2 602.5,714.6 605.4,714.0 608.4,713.4 611.4,712.8 614.3,712.2 617.3,711.6 620.3,711.1 623.2,710.5 626.2,710.0 629.2,709.4 632.2,708.9 635.2,708.4 638.2,707.9 641.1,707.4 644.1,707.0 647.1,706.5 650.1,706.0 653.1,705.6 656.1,705.2 659.1,704.7 662.1,704.3 665.1,703.9 668.1,703.5 671.1,703.1 674.1,702.8 677.2,702.4 680.2,702.1 683.2,701.7 686.2,701.4 689.2,701.1 692.2,700.8 695.2,700.5 698.2,700.2 701.3,699.9 704.3,699.6 707.3,699.3 710.3,699.1 713.3,698.8 716.3,698.6 719.4,698.4 722.4,698.2 725.4,697.9 728.4,697.7 731.4,697.6 734.4,697.4 737.5,697.2 740.5,697.0 743.5,696.9 746.5,696.7 749.5,696.6 752.5,696.5 755.6,696.4 758.6,696.2 761.6,696.1 764.6,696.1 767.6,696.0 770.6,695.9 773.6,695.8 776.6,695.8 779.7,695.7 782.7,695.7 785.7,695.7 788.7,695.7 791.7,695.7 794.7,695.7 797.7,695.7 800.7,695.7 803.7,695.8 806.7,695.8 809.7,695.9 812.7,695.9 815.7,696.0 818.7,696.1 821.7,696.2 824.7,696.3 827.7,696.4 830.7,696.5 833.7,696.7 836.7,696.8 839.7,697.0 842.7,697.1 845.7,697.3 848.7,697.5 851.7,697.7 854.7,697.9 857.7,698.1 860.7,698.4 863.7,698.6 866.7,698.9 869.6,699.1 872.6,699.4 875.6,699.7 878.6,700.0 881.6,700.3 884.6,700.6 887.5,700.9 890.5,701.3 893.5,701.6 896.5,702.0 899.5,702.4 902.4,702.7 905.4,703.1 908.4,703.5 911.4,704.0 914.3,704.4 917.3,704.8 920.3,705.3 923.2,705.8 926.2,706.2 929.2,706.7 932.1,707.2 935.1,707.7 938.0,708.2 941.0,708.8 944.0,709.3 946.9,709.9 949.9,710.5 952.8,711.0 955.8,711.6 958.7,712.2 961.7,712.9 964.6,713.5 967.6,714.1 970.5,714.8 973.5,715.4 976.4,716.1 979.4,716.8 982.3,717.5 985.2,718.2 988.2,718.9 991.1,719.6 994.0,720.3 997.0,721.0 999.9,721.8 1002.8,722.5 1005.8,723.3 1008.7,724.0 1011.6,724.8 1014.6,725.5 1017.5,726.3 1020.4,727.1 1023.4,727.9 1026.3,728.7 1029.2,729.5 1032.1,730.2 1035.1,731.0 1038.0,731.8 1040.9,732.6 1043.8,733.5 1046.7,734.3 1049.7,735.1 1052.6,735.9 1055.5,736.7 1058.4,737.5 1061.4,738.3 1064.3,739.1 1067.2,739.9 1070.1,740.7 1073.0,741.5 1075.9,742.4 1078.9,743.2 1081.8,744.0 1084.7,744.8 1087.6,745.6 1090.5,746.4 1093.5,747.1 1096.4,747.9 1099.3,748.7 1102.2,749.5 1105.1,750.3 1108.0,751.0 1111.0,751.8 1113.9,752.6 1116.8,753.3 1119.7,754.0 1122.6,754.8 1125.6,755.5 1128.5,756.2 1131.4,757.0 1134.3,757.7 1137.2,758.4 1140.2,759.0 1143.1,759.7 1146.0,760.4 1148.9,761.1 1151.9,761.7 1154.8,762.4 1157.7,763.0 1160.6,763.6 1163.6,764.2 1166.5,764.8 1169.4,765.4 1172.3,766.0 1175.3,766.5 1178.2,767.1 1181.1,767.6 1184.1,768.1 1187.0,768.6" fill="none" stroke="#be50aa" stroke-width="4.2" stroke-linejoin="round" />
<path d="M246.2,812.5L249.3,812.9 252.4,813.2 255.6,813.4 258.7,813.7 261.8,813.8 264.9,814.0 268.0,814.1 271.1,814.1 274.2,814.1 277.2,814.1 280.3,814.0 283.3,813.9 286.3,813.7 289.4,813.5 292.4,813.3 295.4,813.0 298.4,812.7 301.4,812.3 304.4,811.9 307.3,811.5 310.3,811.0 313.2,810.5 316.2,810.0 319.1,809.5 322.0,808.9 325.0,808.2 327.9,807.6 330.8,806.9 333.7,806.2 336.6,805.4 339.5,804.7 342.3,803.9 345.2,803.0 348.1,802.2 350.9,801.3 353.8,800.4 356.6,799.5 359.4,798.5 362.3,797.5 365.1,796.5 367.9,795.5 370.7,794.5 373.5,793.4 376.3,792.3 379.1,791.2 381.9,790.1 384.7,789.0 387.5,787.8 390.3,786.6 393.0,785.4 395.8,784.2 398.5,783.0 401.3,781.8 404.1,780.5 406.8,779.3 409.5,778.0 412.3,776.7 415.0,775.4 417.7,774.1 420.5,772.8 423.2,771.4 425.9,770.1 428.6,768.8 431.3,767.4 434.0,766.1 436.8,764.7 439.5,763.3 442.2,761.9 444.9,760.6 447.6,759.2 450.2,757.8 452.9,756.4 455.6,755.0 458.3,753.6 461.0,752.3 463.7,750.9 466.4,749.5 469.0,748.1 471.7,746.7 474.4,745.3 477.1,744.0 479.8,742.6 482.4,741.2 485.1,739.9 487.8,738.5 490.5,737.2 493.2,735.9 495.9,734.5 498.6,733.2 501.3,731.9 504.0,730.6 506.7,729.4 509.4,728.1 512.1,726.8 514.8,725.6 517.5,724.4 520.3,723.2 523.0,722.0 525.7,720.8 528.5,719.7 531.2,718.6 534.0,717.4 536.8,716.4 539.6,715.3 542.4,714.2 545.1,713.2 548.0,712.2 550.8,711.2 553.6,710.3 556.4,709.3 559.3,708.4 562.1,707.5 565.0,706.6 567.8,705.7 570.7,704.9 573.5,704.0 576.4,703.2 579.3,702.3 582.2,701.5 585.1,700.7 588.0,699.9 590.9,699.1 593.8,698.3 596.7,697.6 599.6,696.8 602.6,696.0 605.5,695.3 608.4,694.5 611.3,693.7 614.3,693.0 617.2,692.2 620.2,691.5 623.1,690.7 626.0,689.9 629.0,689.2 631.9,688.4 634.9,687.6 637.8,686.9 640.8,686.1 643.8,685.4 646.7,684.6 649.7,683.9 652.7,683.1 655.6,682.4 658.6,681.6 661.6,680.9 664.5,680.2 667.5,679.5 670.5,678.8 673.5,678.1 676.4,677.4 679.4,676.7 682.4,676.0 685.4,675.4 688.4,674.7 691.3,674.1 694.3,673.5 697.3,672.9 700.3,672.3 703.3,671.7 706.3,671.2 709.3,670.6 712.2,670.1 715.2,669.6 718.2,669.1 721.2,668.6 724.2,668.2 727.2,667.7 730.2,667.3 733.2,666.9 736.2,666.6 739.2,666.2 742.2,665.9 745.1,665.6 748.1,665.3 751.1,665.0 754.1,664.8 757.1,664.6 760.1,664.3 763.1,664.2 766.1,664.0 769.1,663.8 772.1,663.7 775.1,663.6 778.1,663.5 781.0,663.4 784.0,663.4 787.0,663.3 790.0,663.3 793.0,663.3 796.0,663.3 799.0,663.4 802.0,663.4 805.0,663.5 807.9,663.6 810.9,663.7 813.9,663.8 816.9,663.9 819.9,664.1 822.9,664.3 825.9,664.4 828.8,664.6 831.8,664.9 834.8,665.1 837.8,665.3 840.8,665.6 843.7,665.9 846.7,666.2 849.7,666.5 852.7,666.8 855.7,667.1 858.6,667.5 861.6,667.8 864.6,668.2 867.5,668.6 870.5,669.0 873.5,669.4 876.5,669.9 879.4,670.3 882.4,670.8 885.4,671.2 888.3,671.7 891.3,672.2 894.2,672.7 897.2,673.2 900.2,673.8 903.1,674.3 906.1,674.9 909.0,675.4 912.0,676.0 914.9,676.6 917.9,677.2 920.8,677.8 923.8,678.4 926.7,679.1 929.7,679.7 932.6,680.4 935.5,681.0 938.5,681.7 941.4,682.4 944.4,683.1 947.3,683.8 950.2,684.5 953.1,685.2 956.1,685.9 959.0,686.6 961.9,687.4 964.8,688.1 967.8,688.9 970.7,689.6 973.6,690.4 976.5,691.2 979.4,692.0 982.3,692.8 985.2,693.6 988.2,694.4 991.1,695.2 994.0,696.0 996.9,696.8 999.8,697.7 1002.7,698.5 1005.6,699.3 1008.5,700.2 1011.4,701.0 1014.3,701.9 1017.2,702.8 1020.1,703.6 1023.0,704.5 1025.8,705.4 1028.7,706.2 1031.6,707.1 1034.5,708.0 1037.4,708.9 1040.3,709.8 1043.2,710.7 1046.1,711.6 1048.9,712.5 1051.8,713.3 1054.7,714.2 1057.6,715.1 1060.5,716.0 1063.4,717.0 1066.2,717.9 1069.1,718.8 1072.0,719.7 1074.9,720.6 1077.8,721.5 1080.6,722.4 1083.5,723.3 1086.4,724.2 1089.3,725.1 1092.2,726.0 1095.0,726.9 1097.9,727.8 1100.8,728.7 1103.7,729.6 1106.5,730.5 1109.4,731.4 1112.3,732.3 1115.2,733.2 1118.1,734.1 1120.9,734.9 1123.8,735.8 1126.7,736.7 1129.6,737.6 1132.5,738.4 1135.3,739.3 1138.2,740.2 1141.1,741.0 1144.0,741.9 1146.9,742.7 1149.7,743.6 1152.6,744.4 1155.5,745.2 1158.4,746.1 1161.3,746.9 1164.2,747.7 1167.0,748.5 1169.9,749.3 1172.8,750.1 1175.7,750.9 1178.6,751.7 1181.5,752.5 1184.4,753.2 1187.3,754.0" fill="none" stroke="#787d32" stroke-width="4.2" stroke-linejoin="round" />
<path d="M256.1,804.9L259.2,804.5 262.2,804.2 265.3,803.8 268.3,803.4 271.3,803.0 274.3,802.6 277.4,802.1 280.4,801.7 283.4,801.2 286.4,800.7 289.4,800.2 292.4,799.7 295.4,799.2 298.4,798.6 301.3,798.1 304.3,797.5 307.3,797.0 310.3,796.4 313.2,795.8 316.2,795.2 319.1,794.5 322.1,793.9 325.1,793.2 328.0,792.6 330.9,791.9 333.9,791.2 336.8,790.5 339.7,789.8 342.7,789.1 345.6,788.4 348.5,787.6 351.4,786.9 354.3,786.1 357.2,785.3 360.1,784.5 363.1,783.7 366.0,782.9 368.8,782.1 371.7,781.3 374.6,780.5 377.5,779.6 380.4,778.8 383.3,777.9 386.2,777.1 389.0,776.2 391.9,775.3 394.8,774.4 397.7,773.5 400.5,772.6 403.4,771.7 406.2,770.8 409.1,769.8 412.0,768.9 414.8,767.9 417.7,767.0 420.5,766.0 423.4,765.1 426.2,764.1 429.0,763.1 431.9,762.1 434.7,761.1 437.6,760.1 440.4,759.1 443.2,758.1 446.1,757.1 448.9,756.1 451.7,755.1 454.6,754.0 457.4,753.0 460.2,752.0 463.0,750.9 465.9,749.9 468.7,748.8 471.5,747.8 474.3,746.7 477.2,745.7 480.0,744.6 482.8,743.5 485.6,742.5 488.4,741.4 491.2,740.3 494.0,739.2 496.9,738.2 499.7,737.1 502.5,736.0 505.3,734.9 508.1,733.8 510.9,732.7 513.7,731.6 516.5,730.5 519.4,729.5 522.2,728.4 525.0,727.3 527.8,726.2 530.6,725.1 533.4,724.0 536.2,722.9 539.0,721.8 541.8,720.7 544.7,719.6 547.5,718.5 550.3,717.4 553.1,716.3 555.9,715.2 558.7,714.1 561.5,713.0 564.4,711.9 567.2,710.8 570.0,709.8 572.8,708.7 575.6,707.6 578.4,706.5 581.3,705.4 584.1,704.4 586.9,703.3 589.7,702.2 592.6,701.2 595.4,700.1 598.2,699.0 601.1,698.0 603.9,696.9 606.7,695.9 609.6,694.8 612.4,693.8 615.2,692.8 618.1,691.7 620.9,690.7 623.8,689.7 626.6,688.7 629.4,687.7 632.3,686.7 635.1,685.7 638.0,684.7 640.9,683.7 643.7,682.7 646.6,681.7 649.4,680.8 652.3,679.8 655.2,678.9 658.0,677.9 660.9,677.0 663.8,676.1 666.7,675.2 669.6,674.3 672.4,673.4 675.3,672.5 678.2,671.6 681.1,670.8 684.0,669.9 686.9,669.1 689.8,668.3 692.7,667.5 695.6,666.7 698.5,666.0 701.4,665.2 704.3,664.5 707.3,663.8 710.2,663.1 713.1,662.4 716.0,661.8 719.0,661.1 721.9,660.5 724.9,659.9 727.8,659.4 730.8,658.8 733.7,658.3 736.7,657.8 739.6,657.3 742.6,656.8 745.5,656.3 748.5,655.9 751.5,655.5 754.4,655.1 757.4,654.7 760.4,654.4 763.3,654.0 766.3,653.7 769.3,653.4 772.3,653.1 775.2,652.9 778.2,652.7 781.2,652.5 784.2,652.3 787.2,652.1 790.2,652.0 793.1,651.8 796.1,651.7 799.1,651.7 802.1,651.6 805.1,651.6 808.1,651.5 811.1,651.5 814.0,651.6 817.0,651.6 820.0,651.7 823.0,651.8 826.0,651.9 829.0,652.0 831.9,652.2 834.9,652.3 837.9,652.5 840.9,652.8 843.9,653.0 846.8,653.3 849.8,653.5 852.8,653.9 855.7,654.2 858.7,654.5 861.7,654.9 864.6,655.3 867.6,655.7 870.5,656.2 873.5,656.6 876.5,657.1 879.4,657.6 882.4,658.1 885.3,658.6 888.2,659.2 891.2,659.8 894.1,660.3 897.1,661.0 900.0,661.6 902.9,662.2 905.9,662.9 908.8,663.6 911.7,664.2 914.7,665.0 917.6,665.7 920.5,666.4 923.5,667.2 926.4,667.9 929.3,668.7 932.2,669.5 935.1,670.3 938.0,671.1 941.0,672.0 943.9,672.8 946.8,673.7 949.7,674.5 952.6,675.4 955.5,676.3 958.4,677.2 961.3,678.1 964.2,679.0 967.1,680.0 970.0,680.9 972.9,681.9 975.8,682.8 978.7,683.8 981.6,684.8 984.5,685.8 987.3,686.7 990.2,687.7 993.1,688.7 996.0,689.8 998.9,690.8 1001.8,691.8 1004.6,692.8 1007.5,693.9 1010.4,694.9 1013.3,695.9 1016.1,697.0 1019.0,698.0 1021.9,699.1 1024.8,700.1 1027.6,701.2 1030.5,702.3 1033.4,703.3 1036.2,704.4 1039.1,705.5 1042.0,706.5 1044.8,707.6 1047.7,708.7 1050.5,709.7 1053.4,710.8 1056.2,711.9 1059.1,713.0 1062.0,714.0 1064.8,715.1 1067.7,716.1 1070.5,717.2 1073.4,718.3 1076.2,719.3 1079.1,720.4 1081.9,721.4 1084.7,722.5 1087.6,723.5 1090.4,724.5 1093.3,725.6 1096.1,726.6 1099.0,727.6 1101.8,728.6 1104.6,729.6 1107.5,730.6 1110.3,731.6 1113.1,732.6 1116.0,733.6 1118.8,734.6 1121.7,735.5 1124.5,736.5 1127.3,737.4 1130.1,738.4 1133.0,739.3 1135.8,740.2 1138.6,741.1 1141.5,742.0 1144.3,742.9 1147.1,743.8 1149.9,744.6 1152.8,745.5 1155.6,746.3 1158.4,747.2 1161.2,748.0 1164.1,748.8 1166.9,749.6 1169.7,750.3 1172.5,751.1 1175.4,751.8 1178.2,752.6 1181.0,753.3 1183.8,754.0 1186.6,754.7" fill="none" stroke="#e42330" stroke-width="2.6" stroke-linejoin="round" stroke-dasharray="19 9"/>
<path d="M165.5,16.7 V822.3 H1190.0" fill="none" stroke="#222" stroke-width="5" stroke-linejoin="round"/>
<line x1="165.5" y1="822.3" x2="151" y2="822.3" stroke="#222" stroke-width="5" stroke-linecap="round"/>
<line x1="165.5" y1="733.1" x2="157.5" y2="733.1" stroke="#222" stroke-width="5" stroke-linecap="round"/>
<line x1="165.5" y1="643.8" x2="151" y2="643.8" stroke="#222" stroke-width="5" stroke-linecap="round"/>
<line x1="165.5" y1="554.6" x2="157.5" y2="554.6" stroke="#222" stroke-width="5" stroke-linecap="round"/>
<line x1="165.5" y1="465.3" x2="151" y2="465.3" stroke="#222" stroke-width="5" stroke-linecap="round"/>
<line x1="165.5" y1="376.1" x2="157.5" y2="376.1" stroke="#222" stroke-width="5" stroke-linecap="round"/>
<line x1="165.5" y1="286.9" x2="151" y2="286.9" stroke="#222" stroke-width="5" stroke-linecap="round"/>
<line x1="165.5" y1="197.6" x2="157.5" y2="197.6" stroke="#222" stroke-width="5" stroke-linecap="round"/>
<line x1="165.5" y1="108.4" x2="151" y2="108.4" stroke="#222" stroke-width="5" stroke-linecap="round"/>
<line x1="165.5" y1="19.2" x2="157.5" y2="19.2" stroke="#222" stroke-width="5" stroke-linecap="round"/>
<line x1="165.5" y1="822.3" x2="165.5" y2="835.5" stroke="#222" stroke-width="5" stroke-linecap="round"/>
<line x1="267.7" y1="822.3" x2="267.7" y2="829" stroke="#222" stroke-width="5" stroke-linecap="round"/>
<line x1="369.9" y1="822.3" x2="369.9" y2="835.5" stroke="#222" stroke-width="5" stroke-linecap="round"/>
<line x1="472.1" y1="822.3" x2="472.1" y2="829" stroke="#222" stroke-width="5" stroke-linecap="round"/>
<line x1="574.3" y1="822.3" x2="574.3" y2="835.5" stroke="#222" stroke-width="5" stroke-linecap="round"/>
<line x1="676.5" y1="822.3" x2="676.5" y2="829" stroke="#222" stroke-width="5" stroke-linecap="round"/>
<line x1="778.7" y1="822.3" x2="778.7" y2="835.5" stroke="#222" stroke-width="5" stroke-linecap="round"/>
<line x1="880.9" y1="822.3" x2="880.9" y2="829" stroke="#222" stroke-width="5" stroke-linecap="round"/>
<line x1="983.1" y1="822.3" x2="983.1" y2="835.5" stroke="#222" stroke-width="5" stroke-linecap="round"/>
<line x1="1085.3" y1="822.3" x2="1085.3" y2="829" stroke="#222" stroke-width="5" stroke-linecap="round"/>
<line x1="1187.5" y1="822.3" x2="1187.5" y2="835.5" stroke="#222" stroke-width="5" stroke-linecap="round"/>
<text transform="translate(141.5,835.7) scale(0.99,1)" text-anchor="end" font-size="51.5">0</text>
<text transform="translate(141.5,657.2) scale(0.99,1)" text-anchor="end" font-size="51.5">100</text>
<text transform="translate(141.5,478.7) scale(0.99,1)" text-anchor="end" font-size="51.5">200</text>
<text transform="translate(141.5,300.3) scale(0.99,1)" text-anchor="end" font-size="51.5">300</text>
<text transform="translate(141.5,121.8) scale(0.99,1)" text-anchor="end" font-size="51.5">400</text>
<text transform="translate(165.0,885.2) scale(0.99,1)" text-anchor="middle" font-size="51.5">450</text>
<text transform="translate(369.4,885.2) scale(0.99,1)" text-anchor="middle" font-size="51.5">500</text>
<text transform="translate(573.8,885.2) scale(0.99,1)" text-anchor="middle" font-size="51.5">550</text>
<text transform="translate(778.2,885.2) scale(0.99,1)" text-anchor="middle" font-size="51.5">600</text>
<text transform="translate(982.6,885.2) scale(0.99,1)" text-anchor="middle" font-size="51.5">650</text>
<text transform="translate(1187.0,885.2) scale(0.99,1)" text-anchor="middle" font-size="51.5">700</text>
<text x="440.8" y="945" font-size="53">Wavelength, nm</text>
<text transform="translate(44,679) rotate(-90)" x="0" y="0" font-size="59.5" textLength="490" lengthAdjust="spacing">PL Intensity, (a.u.)</text>
<text transform="translate(627,201.5) scale(0.985,1)" font-size="51.5">1%</text>
<text transform="translate(527,287.5) scale(0.985,1)" font-size="51.5">2%</text>
<text transform="translate(522,493.5) scale(0.985,1)" font-size="51.5">3%</text>
<text transform="translate(525.5,625.5) scale(0.985,1)" font-size="51.5">4%</text>
<text transform="translate(650.5,659.5) scale(0.985,1)" font-size="51.5">6%</text>
<text transform="translate(741,749.5) scale(0.985,1)" font-size="51.5">8%</text>
<path d="M931,81.5 L1100,204" stroke="#fff" stroke-width="7.6" stroke-linecap="round" fill="none"/>
<path d="M1100.5,180 L1103.5,207 L1078,210" stroke="#fff" stroke-width="7.8" stroke-linecap="round" stroke-linejoin="round" fill="none"/>
<ellipse cx="902.7" cy="135" rx="8" ry="6.1" fill="#18181e"/>
<ellipse cx="938.1" cy="154.8" rx="8" ry="6.1" fill="#18181e"/>
<ellipse cx="982.5" cy="183.2" rx="8" ry="6.1" fill="#18181e"/>
<ellipse cx="1004.4" cy="197.8" rx="8" ry="6.1" fill="#18181e"/>
<ellipse cx="1063.8" cy="237.7" rx="8" ry="6.1" fill="#18181e"/>
<ellipse cx="1077.6" cy="247.7" rx="8" ry="6.1" fill="#18181e"/>
</svg>
</body></html>
